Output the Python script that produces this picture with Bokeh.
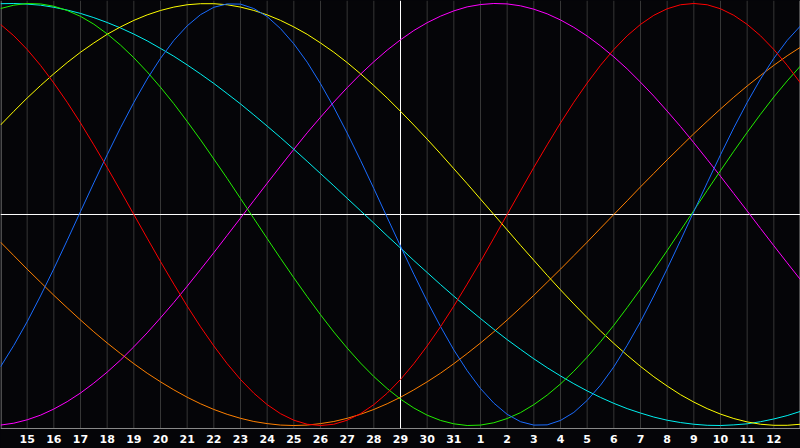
from bokeh.plotting import figure
from bokeh.models import Range1d
from bokeh.embed import file_html
from bokeh.resources import INLINE
from bokeh.core.properties import value

# samples every half day; index 0 = the 14th, day position 15 = the 29th (centre)
day_pos = [i / 2 for i in range(61)]
day_labels = ["15", "16", "17", "18", "19", "20", "21", "22", "23", "24", "25",
              "26", "27", "28", "29", "30", "31", "1", "2", "3", "4", "5", "6",
              "7", "8", "9", "10", "11", "12"]
label_days = list(range(1, 30))

physical = [-0.722, -0.620, -0.508, -0.386, -0.257, -0.123, 0.014, 0.150, 0.283, 0.411,
            0.531, 0.642, 0.740, 0.825, 0.894, 0.947, 0.982, 0.998, 0.997, 0.976,
            0.938, 0.881, 0.809, 0.722, 0.620, 0.508, 0.386, 0.257, 0.123, -0.014,
            -0.150, -0.283, -0.411, -0.531, -0.642, -0.740, -0.825, -0.894, -0.947, -0.982,
            -0.998, -0.997, -0.976, -0.938, -0.881, -0.809, -0.722, -0.620, -0.508, -0.386,
            -0.257, -0.123, 0.014, 0.150, 0.283, 0.411, 0.531, 0.642, 0.740, 0.825,
            0.894]
emotional = [0.901, 0.847, 0.782, 0.707, 0.623, 0.532, 0.434, 0.330, 0.223, 0.112,
             0.0, -0.112, -0.223, -0.330, -0.434, -0.532, -0.623, -0.707, -0.782, -0.847,
             -0.901, -0.944, -0.975, -0.994, -1.0, -0.994, -0.975, -0.944, -0.901, -0.847,
             -0.782, -0.707, -0.623, -0.532, -0.434, -0.330, -0.223, -0.112, 0.0, 0.112,
             0.223, 0.330, 0.434, 0.532, 0.623, 0.707, 0.782, 0.847, 0.901, 0.944,
             0.975, 0.994, 1.0, 0.994, 0.975, 0.944, 0.901, 0.847, 0.782, 0.707,
             0.623]
intellectual = [0.976, 0.992, 1.0, 0.998, 0.987, 0.967, 0.939, 0.902, 0.856, 0.803,
                0.743, 0.676, 0.603, 0.525, 0.441, 0.354, 0.263, 0.171, 0.076, -0.019,
                -0.114, -0.208, -0.300, -0.389, -0.475, -0.557, -0.633, -0.704, -0.768, -0.825,
                -0.875, -0.917, -0.951, -0.976, -0.992, -1.0, -0.998, -0.987, -0.967, -0.939,
                -0.901, -0.856, -0.803, -0.743, -0.676, -0.603, -0.525, -0.441, -0.354, -0.263,
                -0.171, -0.076, 0.019, 0.114, 0.208, 0.300, 0.389, 0.475, 0.557, 0.633,
                0.704]
intuitive = [-0.998, -0.989, -0.973, -0.951, -0.922, -0.887, -0.846, -0.799, -0.747, -0.690,
             -0.627, -0.561, -0.490, -0.417, -0.340, -0.261, -0.181, -0.099, -0.017, 0.066,
             0.148, 0.229, 0.309, 0.387, 0.461, 0.533, 0.601, 0.665, 0.724, 0.779,
             0.828, 0.872, 0.909, 0.940, 0.965, 0.984, 0.995, 1.0, 0.998, 0.989,
             0.973, 0.951, 0.922, 0.887, 0.846, 0.799, 0.747, 0.690, 0.627, 0.561,
             0.490, 0.417, 0.340, 0.261, 0.181, 0.099, 0.017, -0.066, -0.148, -0.229,
             -0.309]
aesthetic = [0.424, 0.489, 0.552, 0.611, 0.667, 0.720, 0.769, 0.813, 0.854, 0.889,
             0.920, 0.946, 0.967, 0.983, 0.994, 0.999, 0.999, 0.994, 0.983, 0.967,
             0.946, 0.920, 0.889, 0.854, 0.813, 0.769, 0.720, 0.667, 0.611, 0.552,
             0.489, 0.424, 0.357, 0.288, 0.217, 0.146, 0.073, 0.0, -0.073, -0.146,
             -0.217, -0.288, -0.357, -0.424, -0.489, -0.552, -0.611, -0.667, -0.720, -0.769,
             -0.813, -0.854, -0.889, -0.920, -0.946, -0.967, -0.983, -0.994, -0.999, -0.999,
             -0.994]
awareness = [-0.131, -0.195, -0.259, -0.321, -0.383, -0.442, -0.500, -0.556, -0.609, -0.659,
             -0.707, -0.752, -0.793, -0.831, -0.866, -0.897, -0.924, -0.947, -0.966, -0.981,
             -0.991, -0.998, -1.0, -0.998, -0.991, -0.981, -0.966, -0.947, -0.924, -0.897,
             -0.866, -0.831, -0.793, -0.752, -0.707, -0.659, -0.609, -0.556, -0.500, -0.442,
             -0.383, -0.321, -0.259, -0.195, -0.131, -0.065, 0.0, 0.065, 0.131, 0.195,
             0.259, 0.321, 0.383, 0.442, 0.500, 0.556, 0.609, 0.659, 0.707, 0.752,
             0.793]
spiritual = [0.999, 1.0, 0.997, 0.992, 0.982, 0.969, 0.953, 0.933, 0.910, 0.884,
             0.855, 0.823, 0.787, 0.750, 0.709, 0.666, 0.621, 0.573, 0.524, 0.472,
             0.419, 0.365, 0.309, 0.252, 0.194, 0.136, 0.077, 0.018, -0.041, -0.101,
             -0.159, -0.218, -0.275, -0.332, -0.387, -0.441, -0.493, -0.544, -0.593, -0.639,
             -0.684, -0.726, -0.765, -0.802, -0.836, -0.867, -0.895, -0.920, -0.941, -0.960,
             -0.975, -0.986, -0.994, -0.999, -1.0, -0.997, -0.992, -0.982, -0.969, -0.953,
             -0.933]

series = [
    (awareness, "#ff8000"),
    (intuitive, "#ff00ff"),
    (spiritual, "#00f0f0"),
    (aesthetic, "#ffff00"),
    (intellectual, "#22ee00"),
    (physical, "#1a6cff"),
    (emotional, "#ff0000"),
]

BG = "#050508"
TOP = 1.0142
BOT = -1.0142

p = figure(width=800, height=448, x_range=Range1d(0, 30), y_range=Range1d(-1.109, 1.0142),
           output_backend="svg", toolbar_location=None, min_border=0,
           min_border_left=0, min_border_right=0, min_border_top=0, min_border_bottom=0,
           background_fill_color=BG, border_fill_color=BG, outline_line_color=None)
p.xaxis.visible = False
p.yaxis.visible = False
p.xgrid.visible = False
p.ygrid.visible = False

grid_days = [d for d in label_days if d != 15]
p.segment(x0=grid_days, y0=[BOT] * len(grid_days), x1=grid_days, y1=[TOP] * len(grid_days),
          line_color="#363636", line_width=1)

# frame borders
p.segment(x0=[0.02, 29.98], y0=[BOT, BOT], x1=[0.02, 29.98], y1=[TOP, TOP],
          line_color="#8a8a8a", line_width=1)
p.segment(x0=[0], y0=[BOT], x1=[30], y1=[BOT], line_color="#8a8a8a", line_width=1)

# centre cross
p.segment(x0=[15, 0], y0=[BOT, 0], x1=[15, 30], y1=[TOP, 0], line_color="#ffffff", line_width=1)

for vals, col in series:
    p.line(day_pos, vals, line_color=col, line_width=1)

p.text(x=label_days, y=[-1.064] * len(label_days), text=day_labels,
       text_align="center", text_baseline="middle",
       text_font=value("DejaVu Sans"), text_font_style="bold",
       text_font_size="11px", text_color="#ffffff")

html = file_html(p, INLINE, title="Biorhythm")
style = "<style>html,body{margin:0;padding:0;background:#050508;overflow:hidden}</style>"
if "<head>" in html:
    html = html.replace("<head>", "<head>" + style, 1)
open("out.html", "w").write(html)
